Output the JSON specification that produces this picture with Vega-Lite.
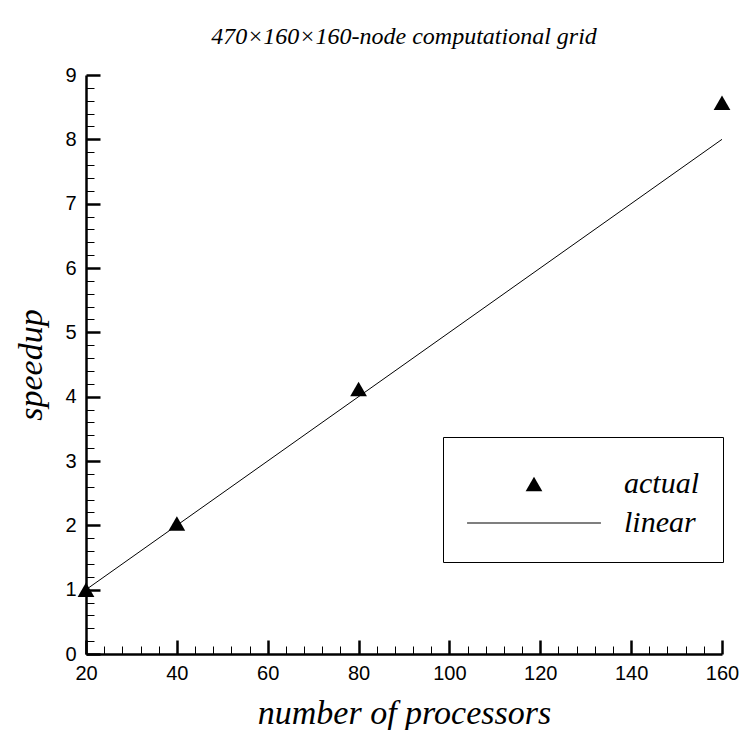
{
  "$schema": "https://vega.github.io/schema/vega-lite/v6.json",
  "width": 636,
  "height": 579,
  "autosize": {"type": "none"},
  "padding": {"left": 86, "top": 75, "right": 23, "bottom": 76},
  "background": "white",
  "config": {"view": {"stroke": null}},
  "title": {
    "text": "470×160×160-node computational grid",
    "font": "Liberation Serif",
    "fontStyle": "italic",
    "fontWeight": "normal",
    "fontSize": 24,
    "color": "black",
    "anchor": "middle",
    "frame": "group",
    "baseline": "alphabetic",
    "offset": -3
  },
  "datasets": {
    "actual": [
      {"processors": 20, "speedup": 1.0, "series": "actual"},
      {"processors": 40, "speedup": 2.03, "series": "actual"},
      {"processors": 80, "speedup": 4.12, "series": "actual"},
      {"processors": 160, "speedup": 8.57, "series": "actual"}
    ],
    "linear": [
      {"processors": 20, "speedup": 1, "series": "linear"},
      {"processors": 160, "speedup": 8, "series": "linear"}
    ]
  },
  "encoding": {
    "x": {
      "field": "processors",
      "type": "quantitative",
      "scale": {"domain": [20, 160], "nice": false, "zero": false},
      "axis": {
        "title": "number of processors",
        "values": [20,24,28,32,36,40,44,48,52,56,60,64,68,72,76,80,84,88,92,96,100,104,108,112,116,120,124,128,132,136,140,144,148,152,156,160],
        "labelExpr": "datum.value % 20 === 0 ? datum.label : ''",
        "tickSize": {"condition": {"test": "datum.value % 20 === 0", "value": -14}, "value": -8},
        "tickWidth": {"condition": {"test": "datum.value % 20 === 0", "value": 2.5}, "value": 1},
        "tickColor": "black",
        "domainColor": "black",
        "domainWidth": 2.5,
        "grid": false,
        "labelFont": "Liberation Sans",
        "labelFontSize": 20,
        "labelColor": "black",
        "labelPadding": 23,
        "labelOverlap": false,
        "labelFlush": false,
        "labelBound": false,
        "titleFont": "Liberation Serif",
        "titleFontStyle": "italic",
        "titleFontWeight": "normal",
        "titleFontSize": 34,
        "titleColor": "black",
        "titlePadding": 7
      }
    },
    "y": {
      "field": "speedup",
      "type": "quantitative",
      "scale": {"domain": [0, 9], "nice": false, "zero": true},
      "axis": {
        "title": "speedup",
        "values": [0,0.2,0.4,0.6,0.8,1,1.2,1.4,1.6,1.8,2,2.2,2.4,2.6,2.8,3,3.2,3.4,3.6,3.8,4,4.2,4.4,4.6,4.8,5,5.2,5.4,5.6,5.8,6,6.2,6.4,6.6,6.8,7,7.2,7.4,7.6,7.8,8,8.2,8.4,8.6,8.8,9],
        "labelExpr": "abs(datum.value - round(datum.value)) < 0.001 ? format(datum.value, 'd') : ''",
        "tickSize": {"condition": {"test": "abs(datum.value - round(datum.value)) < 0.001", "value": -14}, "value": -8},
        "tickWidth": {"condition": {"test": "abs(datum.value - round(datum.value)) < 0.001", "value": 2.5}, "value": 1},
        "tickColor": "black",
        "domainColor": "black",
        "domainWidth": 2.5,
        "grid": false,
        "labelFont": "Liberation Sans",
        "labelFontSize": 20,
        "labelColor": "black",
        "labelPadding": 24,
        "labelOverlap": false,
        "labelFlush": false,
        "labelBound": false,
        "titleFont": "Liberation Serif",
        "titleFontStyle": "italic",
        "titleFontWeight": "normal",
        "titleFontSize": 34,
        "titleColor": "black",
        "titlePadding": 16
      }
    }
  },
  "layer": [
    {
      "data": {"name": "linear"},
      "mark": {"type": "line", "color": "black", "strokeWidth": 1}
    },
    {
      "data": {"name": "actual"},
      "mark": {"type": "point", "filled": true, "color": "black", "size": 280, "opacity": 1},
      "encoding": {
        "shape": {
          "field": "series",
          "type": "nominal",
          "scale": {"domain": ["actual", "linear"], "range": ["triangle-up", "M-8,-0.06L8,-0.06L8,0.06L-8,0.06Z"]},
          "legend": {
            "title": " ",
            "titleFontSize": 4,
            "titlePadding": 4,
            "orient": "none",
            "legendX": 357,
            "legendY": 362,
            "direction": "vertical",
            "strokeColor": "black",
            "fillColor": "white",
            "padding": 24,
            "labelFont": "Liberation Serif",
            "labelFontStyle": "italic",
            "labelFontSize": 30,
            "labelColor": "black",
            "labelOffset": 75,
            "symbolOffset": 52,
            "symbolSize": 280,
            "symbolFillColor": "black",
            "symbolStrokeWidth": 0,
            "symbolOpacity": 1,
            "rowPadding": 9
          }
        }
      }
    }
  ]
}
